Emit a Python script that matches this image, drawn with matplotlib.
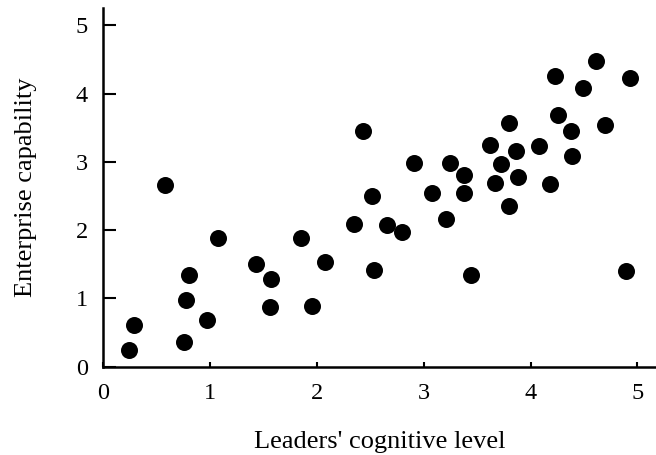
import matplotlib
matplotlib.use("Agg")
import matplotlib.pyplot as plt

# leaders' cognitive level vs enterprise capability
cognitive_level = [0.24, 0.29, 0.58, 0.76, 0.77, 0.80, 0.97, 1.07, 1.43, 1.57,
                   1.56, 1.85, 1.95, 2.08, 2.35, 2.43, 2.52, 2.53, 2.66, 2.80,
                   2.91, 3.08, 3.21, 3.25, 3.38, 3.38, 3.44, 3.62, 3.67, 3.72,
                   3.80, 3.80, 3.86, 3.88, 4.08, 4.18, 4.23, 4.26, 4.38, 4.39,
                   4.49, 4.61, 4.70, 4.89, 4.93]
enterprise_capability = [0.25, 0.61, 2.66, 0.36, 0.97, 1.34, 0.69, 1.89, 1.51, 1.28,
                         0.87, 1.88, 0.89, 1.54, 2.09, 3.45, 2.50, 1.42, 2.08, 1.97,
                         2.98, 2.55, 2.17, 2.99, 2.81, 2.54, 1.35, 3.24, 2.69, 2.97,
                         3.57, 2.36, 3.16, 2.78, 3.23, 2.68, 4.26, 3.69, 3.45, 3.09,
                         4.08, 4.48, 3.54, 1.40, 4.23]
ticks = [0, 1, 2, 3, 4, 5]

plt.rcParams['font.family'] = ['Liberation Serif', 'DejaVu Serif']

fig = plt.figure(figsize=(6.56, 4.55), dpi=100)
ax = fig.add_axes([0.1575, 0.194, 0.8425, 0.788])

ax.scatter(cognitive_level, enterprise_capability, s=150, color='black',
           linewidths=0, zorder=3)

ax.set_xlim(0, 5.175)
ax.set_ylim(0, 5.25)
ax.set_xticks(ticks)
ax.set_yticks(ticks)

for side in ['top', 'right']:
    ax.spines[side].set_visible(False)
for side in ['left', 'bottom']:
    ax.spines[side].set_linewidth(1.8)

ax.tick_params(axis='x', direction='in', length=3.6, width=1.5, labelsize=17.5, pad=12)
ax.tick_params(axis='y', direction='in', length=9, width=1.5, labelsize=17.5, pad=11)

ax.set_xlabel("Leaders' cognitive level", fontsize=19, labelpad=19)
ax.set_ylabel("Enterprise capability", fontsize=19, labelpad=28)

plt.savefig("out.png", dpi=100)
